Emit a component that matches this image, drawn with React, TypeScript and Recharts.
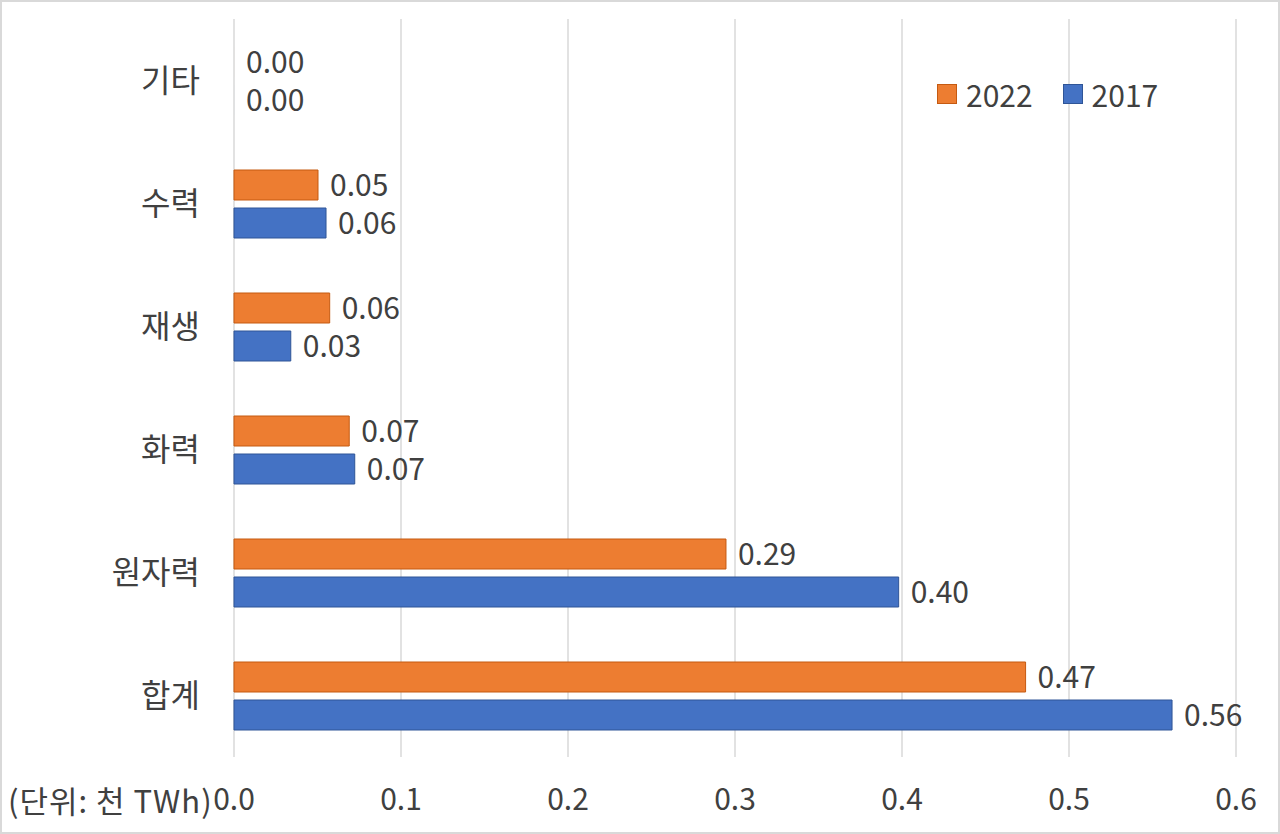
import React from 'react';
import {
  BarChart, Bar, XAxis, YAxis, CartesianGrid, Legend, LabelList, Cell,
} from 'recharts';

// 단위: 천 TWh
const categories = ['기타', '수력', '재생', '화력', '원자력', '합계'];
const values2022 = [0.0, 0.0503, 0.0573, 0.069, 0.2946, 0.474];
const values2017 = [0.0, 0.0551, 0.034, 0.0723, 0.398, 0.5617];
const xTicks = [0, 0.1, 0.2, 0.3, 0.4, 0.5, 0.6];

const series = [
  { key: 'y2022', name: '2022', fill: '#ED7D31', stroke: '#C55A11' },
  { key: 'y2017', name: '2017', fill: '#4472C4', stroke: '#2F5597' },
];

const data = categories.map((name, i) => ({
  name,
  y2022: values2022[i],
  y2017: values2017[i],
}));

const FONT = '"Noto Sans CJK KR", "Noto Sans", sans-serif';
const TEXT = '#404040';

const renderLegend = () => (
  <div style={{ display: 'flex', alignItems: 'center', fontSize: 30, color: TEXT, fontFamily: FONT }}>
    {series.map((s) => (
      <div key={s.name} style={{ display: 'flex', alignItems: 'center', marginRight: 30 }}>
        <span style={{ display: 'inline-block', width: 18, height: 18, background: s.fill, border: `1px solid ${s.stroke}`, marginRight: 9 }} />
        <span>{s.name}</span>
      </div>
    ))}
  </div>
);

export default function App() {
  return (
    <div style={{ position: 'absolute', left: 0, top: 0, width: 1280, height: 834, background: '#fff', fontFamily: FONT }}>
      <BarChart
        width={1280}
        height={834}
        layout="vertical"
        data={data}
        margin={{ top: 19, right: 44, bottom: 0, left: 0 }}
        barSize={30}
        barGap={8}
      >
        <CartesianGrid horizontal={false} stroke="#d9d9d9" strokeWidth={1.5} />
        <XAxis
          type="number"
          domain={[0, 0.6]}
          ticks={xTicks}
          tickFormatter={(v: number) => v.toFixed(1)}
          axisLine={false}
          tickLine={false}
          tickSize={0}
          tickMargin={32}
          height={77}
          tick={{ fill: TEXT, fontSize: 30, fontFamily: FONT }}
        />
        <YAxis
          type="category"
          dataKey="name"
          width={234}
          axisLine={false}
          tickLine={false}
          tickSize={0}
          tickMargin={34}
          tick={{ fill: TEXT, fontSize: 32, fontFamily: FONT }}
        />
        <Legend
          layout="horizontal"
          verticalAlign="middle"
          align="center"
          content={renderLegend}
          wrapperStyle={{ position: 'absolute', left: 937, top: 72, width: 300 }}
        />
        {series.map((s) => (
          <Bar
            key={s.key}
            dataKey={s.key}
            name={s.name}
            fill={s.fill}
            stroke={s.stroke}
            strokeWidth={1}
            minPointSize={0.01}
            isAnimationActive={false}
          >
            {data.map((d, i) => (
              <Cell key={i} stroke={(d as any)[s.key] === 0 ? 'none' : s.stroke} />
            ))}
            <LabelList
              dataKey={s.key}
              position="right"
              offset={12}
              formatter={(v: number) => Number(v).toFixed(2)}
              style={{ fill: TEXT, fontSize: 30, fontFamily: FONT }}
            />
          </Bar>
        ))}
      </BarChart>
      <div style={{ position: 'absolute', left: 8, top: 779, fontSize: 31, color: TEXT, lineHeight: '42px', whiteSpace: 'nowrap', letterSpacing: 1 }}>
        (단위: 천 TWh)
      </div>
      <div style={{ position: 'absolute', inset: 0, border: '2px solid #d9d9d9', pointerEvents: 'none' }} />
    </div>
  );
}
